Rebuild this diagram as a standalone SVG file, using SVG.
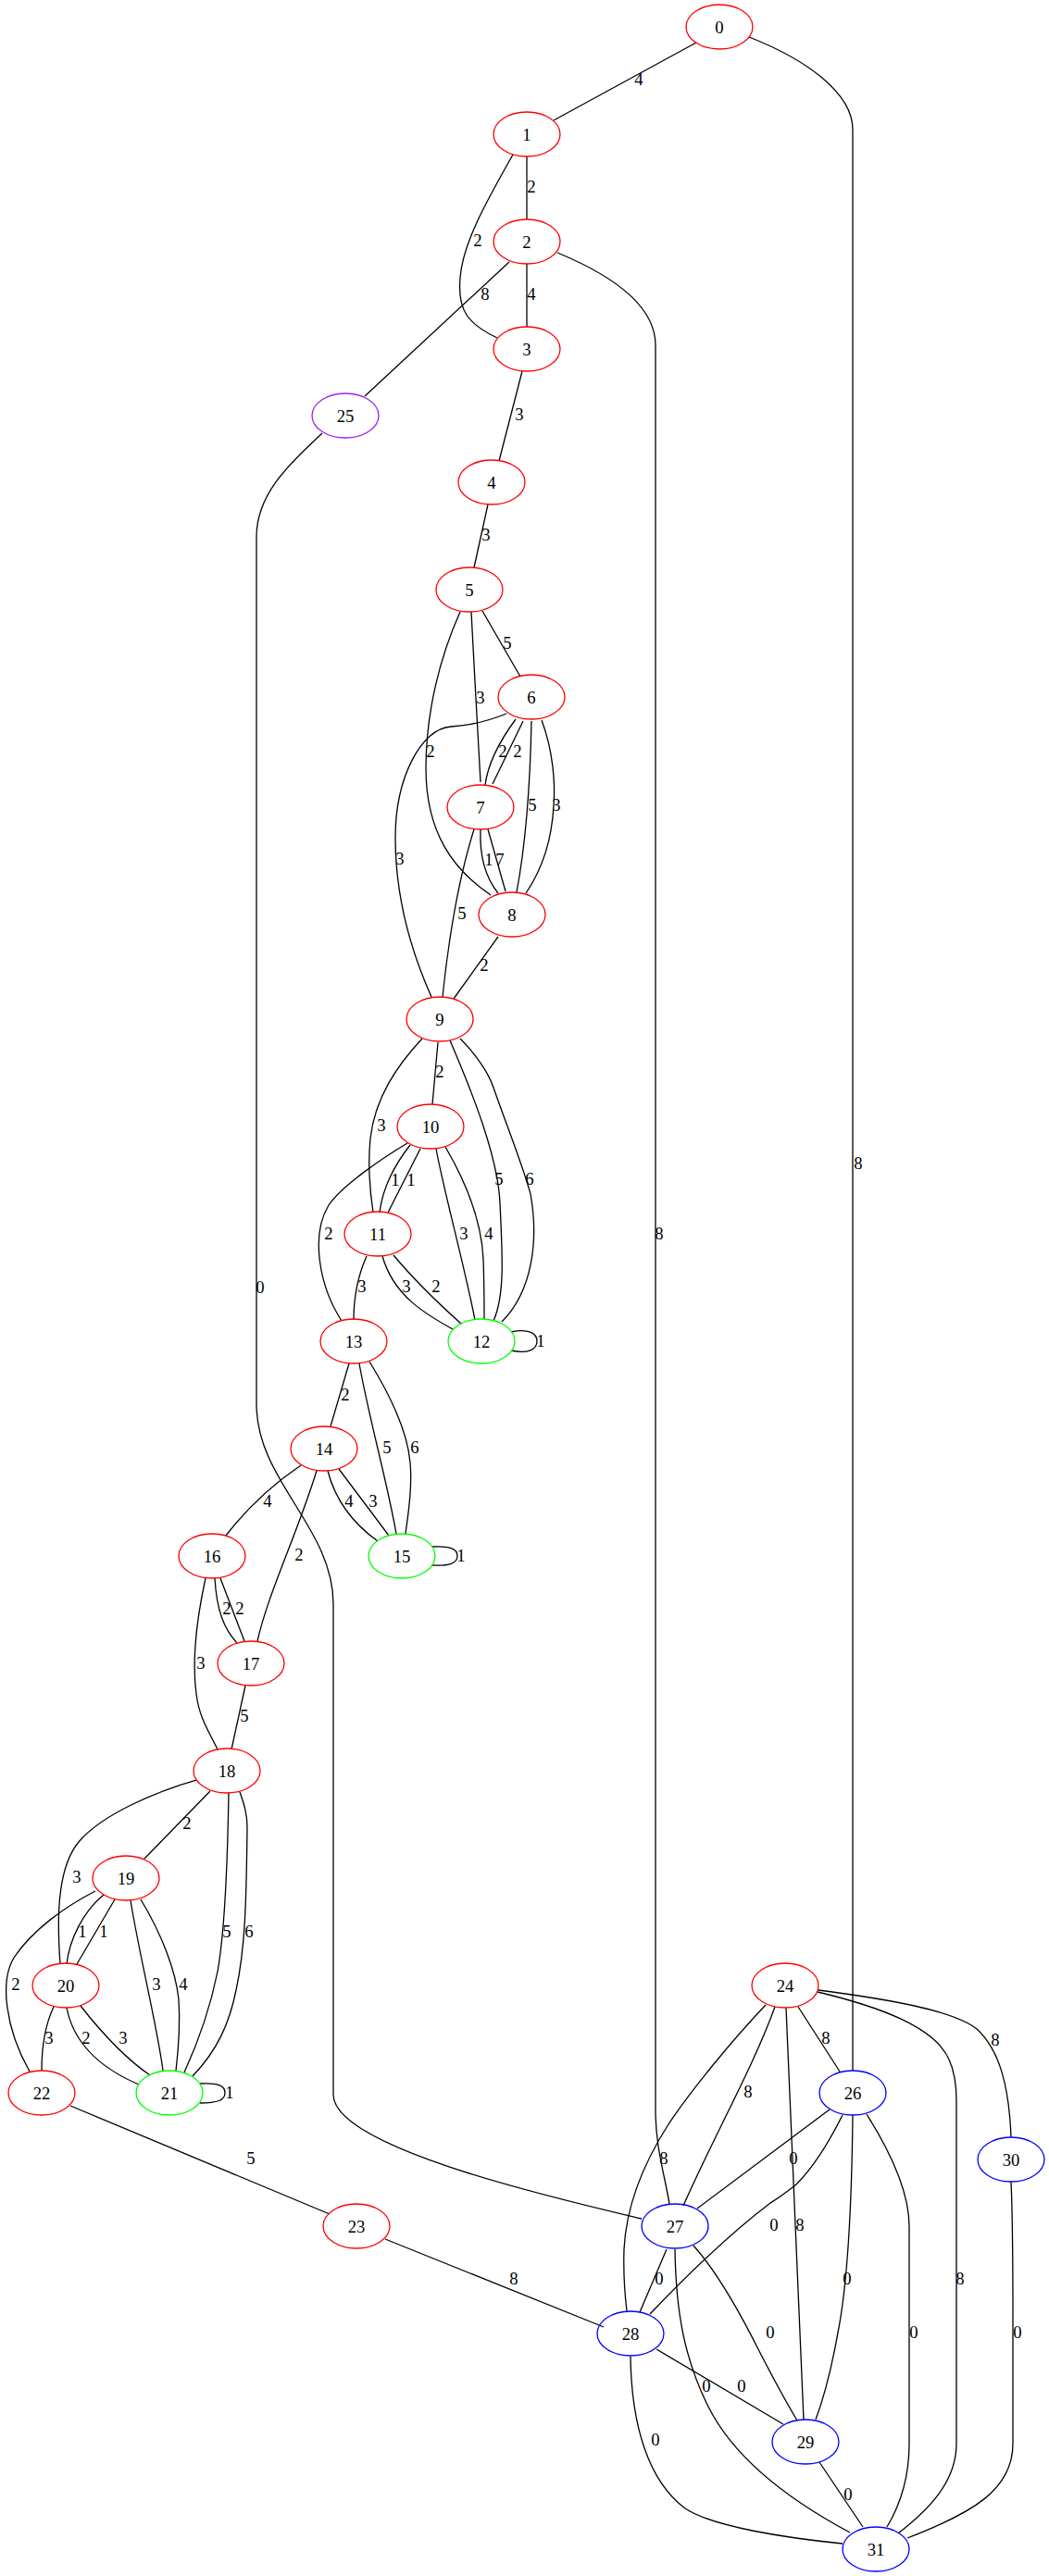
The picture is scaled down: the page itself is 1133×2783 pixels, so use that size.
<svg xmlns="http://www.w3.org/2000/svg" width="1133" height="2783" viewBox="0 0 1133 2783">
<style>
.e path{fill:none;stroke:#000;stroke-width:1.3}
ellipse{fill:none;stroke-width:1.3}
.r ellipse{stroke:#ff0000}
.g ellipse{stroke:#00ff00}
.b ellipse{stroke:#0000ff}
.p ellipse{stroke:#a020f0}
text{font-family:"Liberation Serif","Times New Roman",serif;font-size:18.67px;text-anchor:middle;fill:#000}
</style>
<rect width="1133" height="2783" fill="#fff"/>
<g id="edges" class="e">
<path d="M752,46 L598,130"/>
<path d="M809,40 C870,64 921,100 921,140 L921,2237"/>
<path d="M569,169 L569,237"/>
<path d="M554,167 C530,210 500,260 497,300 C494,335 505,350 537,365"/>
<path d="M569,285 L569,353"/>
<path d="M550,283 L394,428"/>
<path d="M602,273 C660,297 708,330 708,373 L708,2280 C708,2320 718,2350 723,2381"/>
<path d="M564,401 L539,498"/>
<path d="M348,468 C320,495 277,530 277,580 L277,1517 C277,1600 360,1650 360,1733 L360,2263 C360,2320 600,2375 693,2397"/>
<path d="M527,545 L512,613"/>
<path d="M521,660 L562,731"/>
<path d="M509,661 C512,720 516,790 519,845"/>
<path d="M497,661 C475,710 460,770 460,830 C460,900 490,940 530,967"/>
<path d="M557,777 C540,800 527,825 524,848"/>
<path d="M565,779 L532,847"/>
<path d="M574,779 C573,830 570,900 558,964"/>
<path d="M585,778 C597,810 600,845 598,870 C596,910 585,940 568,965"/>
<path d="M547,771 C525,780 505,784 487,785 C455,787 427,840 427,905 C427,970 445,1030 466,1077"/>
<path d="M519,896 C518,920 522,945 538,965"/>
<path d="M527,896 L546,963"/>
<path d="M512,896 C495,950 485,1010 478,1077"/>
<path d="M538,1012 L490,1079"/>
<path d="M473,1126 L467,1193"/>
<path d="M456,1122 C430,1150 405,1185 400,1230 C397,1260 400,1290 403,1310"/>
<path d="M443,1237 C425,1260 413,1285 410,1310"/>
<path d="M454,1241 L419,1310"/>
<path d="M440,1235 C415,1250 370,1280 355,1302 C335,1335 345,1390 369,1427"/>
<path d="M471,1241 C480,1290 500,1360 513,1426"/>
<path d="M481,1239 C505,1280 520,1320 522,1360 C523,1390 523,1410 523,1425"/>
<path d="M486,1124 C510,1180 538,1250 540,1300 C543,1360 545,1400 533,1427"/>
<path d="M497,1122 C515,1140 528,1160 533,1175 C545,1210 565,1260 573,1290 C582,1340 575,1395 542,1428"/>
<path d="M396,1357 C388,1375 382,1395 382,1426"/>
<path d="M413,1357 C425,1400 460,1420 489,1436"/>
<path d="M425,1356 C445,1380 470,1405 498,1430"/>
<path d="M552,1439 C570,1435 580,1440 580,1449 C580,1458 570,1463 552,1459"/>
<path d="M377,1473 L357,1541"/>
<path d="M388,1473 C398,1530 418,1600 428,1657"/>
<path d="M399,1471 C420,1505 440,1545 443,1580 C446,1610 440,1640 438,1657"/>
<path d="M325,1583 C300,1600 270,1625 244,1659"/>
<path d="M342,1589 C320,1660 290,1720 278,1773"/>
<path d="M354,1589 C362,1620 380,1645 408,1665"/>
<path d="M366,1587 L420,1659"/>
<path d="M467,1671 C485,1670 494,1673 494,1681 C494,1689 485,1692 467,1691"/>
<path d="M232,1705 C234,1740 242,1760 256,1775"/>
<path d="M238,1705 L264,1773"/>
<path d="M222,1705 C210,1760 208,1800 212,1830 C215,1855 225,1870 235,1890"/>
<path d="M265,1821 L250,1890"/>
<path d="M227,1935 L156,2008"/>
<path d="M212,1923 C170,1935 110,1960 85,1990 C60,2020 62,2080 65,2122"/>
<path d="M112,2047 C90,2065 75,2095 72,2122"/>
<path d="M124,2052 L83,2122"/>
<path d="M247,1937 C246,2000 244,2080 235,2130 C225,2180 210,2215 199,2239"/>
<path d="M259,1936 C264,1950 267,1960 267,1975 C266,2040 266,2100 255,2150 C248,2185 235,2215 208,2243"/>
<path d="M103,2043 C70,2060 35,2085 15,2115 C0,2140 5,2190 32,2238"/>
<path d="M141,2053 C150,2110 170,2190 176,2237"/>
<path d="M152,2052 C175,2090 190,2130 193,2160 C195,2190 192,2220 190,2237"/>
<path d="M58,2168 C50,2185 45,2210 45,2237"/>
<path d="M72,2169 C80,2210 110,2235 150,2252"/>
<path d="M87,2167 C105,2190 130,2220 162,2242"/>
<path d="M216,2251 C235,2250 243,2253 243,2261 C243,2269 235,2272 216,2272"/>
<path d="M76,2275 L356,2392"/>
<path d="M416,2419 L652,2514"/>
<path d="M862,2168 L907,2238"/>
<path d="M837,2168 C815,2230 770,2310 738,2383"/>
<path d="M827,2166 C790,2205 745,2260 722,2295 C690,2345 676,2390 674,2430 C673,2460 675,2480 677,2497"/>
<path d="M849,2169 L868,2614"/>
<path d="M883,2152 C950,2168 1010,2190 1025,2225 C1032,2240 1033,2255 1033,2270 L1033,2640 C1033,2680 1005,2710 970,2737"/>
<path d="M884,2150 C960,2160 1030,2172 1055,2192 C1080,2215 1090,2255 1092,2309"/>
<path d="M896,2279 L753,2386"/>
<path d="M910,2285 C895,2315 880,2340 860,2360 C845,2372 840,2375 832,2380 C790,2412 740,2460 702,2500"/>
<path d="M921,2285 C920,2380 915,2470 905,2520 C897,2565 890,2590 881,2614"/>
<path d="M936,2284 C965,2330 982,2370 982,2405 L982,2640 C982,2680 970,2710 958,2730"/>
<path d="M720,2430 L691,2498"/>
<path d="M749,2426 C775,2455 800,2500 820,2540 C838,2575 852,2600 861,2615"/>
<path d="M729,2430 C730,2500 740,2550 765,2600 C795,2660 860,2705 918,2736"/>
<path d="M709,2538 L846,2619"/>
<path d="M681,2546 C682,2620 700,2680 740,2710 C770,2730 850,2742 910,2748"/>
<path d="M885,2660 L932,2730"/>
<path d="M1092,2357 C1094,2400 1094,2450 1094,2500 L1094,2640 C1094,2690 1050,2715 980,2742"/>
</g>
<g id="edge-labels">
<text x="690" y="92">4</text>
<text x="927" y="1263">8</text>
<text x="574" y="208">2</text>
<text x="516" y="266">2</text>
<text x="574" y="324">4</text>
<text x="524" y="324">8</text>
<text x="712" y="1339">8</text>
<text x="561" y="454">3</text>
<text x="281" y="1397">0</text>
<text x="525" y="584">3</text>
<text x="548" y="701">5</text>
<text x="519" y="760">3</text>
<text x="465" y="818">2</text>
<text x="543" y="818">2</text>
<text x="559" y="818">2</text>
<text x="575" y="876">5</text>
<text x="601" y="876">3</text>
<text x="432" y="934">3</text>
<text x="528" y="935">1</text>
<text x="540" y="935">7</text>
<text x="499" y="993">5</text>
<text x="523" y="1049">2</text>
<text x="475" y="1164">2</text>
<text x="412" y="1222">3</text>
<text x="427" y="1281">1</text>
<text x="444" y="1281">1</text>
<text x="355" y="1339">2</text>
<text x="501" y="1339">3</text>
<text x="528" y="1339">4</text>
<text x="539" y="1280">5</text>
<text x="572" y="1280">6</text>
<text x="391" y="1396">3</text>
<text x="439" y="1396">3</text>
<text x="471" y="1396">2</text>
<text x="584" y="1455">1</text>
<text x="373" y="1513">2</text>
<text x="418" y="1570">5</text>
<text x="448" y="1570">6</text>
<text x="289" y="1628">4</text>
<text x="323" y="1686">2</text>
<text x="377" y="1628">4</text>
<text x="403" y="1628">3</text>
<text x="498" y="1687">1</text>
<text x="245" y="1744">2</text>
<text x="259" y="1744">2</text>
<text x="217" y="1803">3</text>
<text x="264" y="1860">5</text>
<text x="202" y="1976">2</text>
<text x="83" y="2034">3</text>
<text x="89" y="2093">1</text>
<text x="112" y="2093">1</text>
<text x="245" y="2093">5</text>
<text x="269" y="2093">6</text>
<text x="17" y="2150">2</text>
<text x="169" y="2150">3</text>
<text x="198" y="2150">4</text>
<text x="53" y="2208">3</text>
<text x="93" y="2208">2</text>
<text x="133" y="2208">3</text>
<text x="248" y="2267">1</text>
<text x="271" y="2338">5</text>
<text x="555" y="2468">8</text>
<text x="892" y="2208">8</text>
<text x="808" y="2266">8</text>
<text x="717" y="2338">8</text>
<text x="864" y="2410">8</text>
<text x="1037" y="2468">8</text>
<text x="1075" y="2210">8</text>
<text x="857" y="2338">0</text>
<text x="836" y="2410">0</text>
<text x="915" y="2468">0</text>
<text x="987" y="2526">0</text>
<text x="712" y="2468">0</text>
<text x="832" y="2526">0</text>
<text x="763" y="2584">0</text>
<text x="801" y="2584">0</text>
<text x="708" y="2642">0</text>
<text x="916" y="2701">0</text>
<text x="1099" y="2526">0</text>
</g>
<g id="n0" class="r"><ellipse cx="777" cy="29" rx="36" ry="24"/><text x="777" y="35.5">0</text></g>
<g id="n1" class="r"><ellipse cx="569" cy="145" rx="36" ry="24"/><text x="569" y="151.5">1</text></g>
<g id="n2" class="r"><ellipse cx="569" cy="261" rx="36" ry="24"/><text x="569" y="267.5">2</text></g>
<g id="n3" class="r"><ellipse cx="569" cy="377" rx="36" ry="24"/><text x="569" y="383.5">3</text></g>
<g id="n4" class="r"><ellipse cx="531" cy="521" rx="36" ry="24"/><text x="531" y="527.5">4</text></g>
<g id="n5" class="r"><ellipse cx="507" cy="637" rx="36" ry="24"/><text x="507" y="643.5">5</text></g>
<g id="n6" class="r"><ellipse cx="574" cy="753" rx="36" ry="24"/><text x="574" y="759.5">6</text></g>
<g id="n7" class="r"><ellipse cx="519" cy="872" rx="36" ry="24"/><text x="519" y="878.5">7</text></g>
<g id="n8" class="r"><ellipse cx="553" cy="988" rx="36" ry="24"/><text x="553" y="994.5">8</text></g>
<g id="n9" class="r"><ellipse cx="475" cy="1101" rx="36" ry="24"/><text x="475" y="1107.5">9</text></g>
<g id="n10" class="r"><ellipse cx="465" cy="1217" rx="36" ry="24"/><text x="465" y="1223.5">10</text></g>
<g id="n11" class="r"><ellipse cx="408" cy="1333" rx="36" ry="24"/><text x="408" y="1339.5">11</text></g>
<g id="n12" class="g"><ellipse cx="520" cy="1449" rx="36" ry="24"/><text x="520" y="1455.5">12</text></g>
<g id="n13" class="r"><ellipse cx="382" cy="1449" rx="36" ry="24"/><text x="382" y="1455.5">13</text></g>
<g id="n14" class="r"><ellipse cx="350" cy="1565" rx="36" ry="24"/><text x="350" y="1571.5">14</text></g>
<g id="n15" class="g"><ellipse cx="434" cy="1681" rx="36" ry="24"/><text x="434" y="1687.5">15</text></g>
<g id="n16" class="r"><ellipse cx="229" cy="1681" rx="36" ry="24"/><text x="229" y="1687.5">16</text></g>
<g id="n17" class="r"><ellipse cx="271" cy="1797" rx="36" ry="24"/><text x="271" y="1803.5">17</text></g>
<g id="n18" class="r"><ellipse cx="245" cy="1913" rx="36" ry="24"/><text x="245" y="1919.5">18</text></g>
<g id="n19" class="r"><ellipse cx="136" cy="2029" rx="36" ry="24"/><text x="136" y="2035.5">19</text></g>
<g id="n20" class="r"><ellipse cx="71" cy="2145" rx="36" ry="24"/><text x="71" y="2151.5">20</text></g>
<g id="n21" class="g"><ellipse cx="183" cy="2261" rx="36" ry="24"/><text x="183" y="2267.5">21</text></g>
<g id="n22" class="r"><ellipse cx="45" cy="2261" rx="36" ry="24"/><text x="45" y="2267.5">22</text></g>
<g id="n23" class="r"><ellipse cx="385" cy="2405" rx="36" ry="24"/><text x="385" y="2411.5">23</text></g>
<g id="n24" class="r"><ellipse cx="848" cy="2145" rx="36" ry="24"/><text x="848" y="2151.5">24</text></g>
<g id="n25" class="p"><ellipse cx="373" cy="449" rx="36" ry="24"/><text x="373" y="455.5">25</text></g>
<g id="n26" class="b"><ellipse cx="921" cy="2261" rx="36" ry="24"/><text x="921" y="2267.5">26</text></g>
<g id="n27" class="b"><ellipse cx="729" cy="2405" rx="36" ry="24"/><text x="729" y="2411.5">27</text></g>
<g id="n28" class="b"><ellipse cx="681" cy="2521" rx="36" ry="24"/><text x="681" y="2527.5">28</text></g>
<g id="n29" class="b"><ellipse cx="870" cy="2638" rx="36" ry="24"/><text x="870" y="2644.5">29</text></g>
<g id="n30" class="b"><ellipse cx="1092" cy="2333" rx="36" ry="24"/><text x="1092" y="2339.5">30</text></g>
<g id="n31" class="b"><ellipse cx="946" cy="2754" rx="36" ry="24"/><text x="946" y="2760.5">31</text></g>
</svg>
